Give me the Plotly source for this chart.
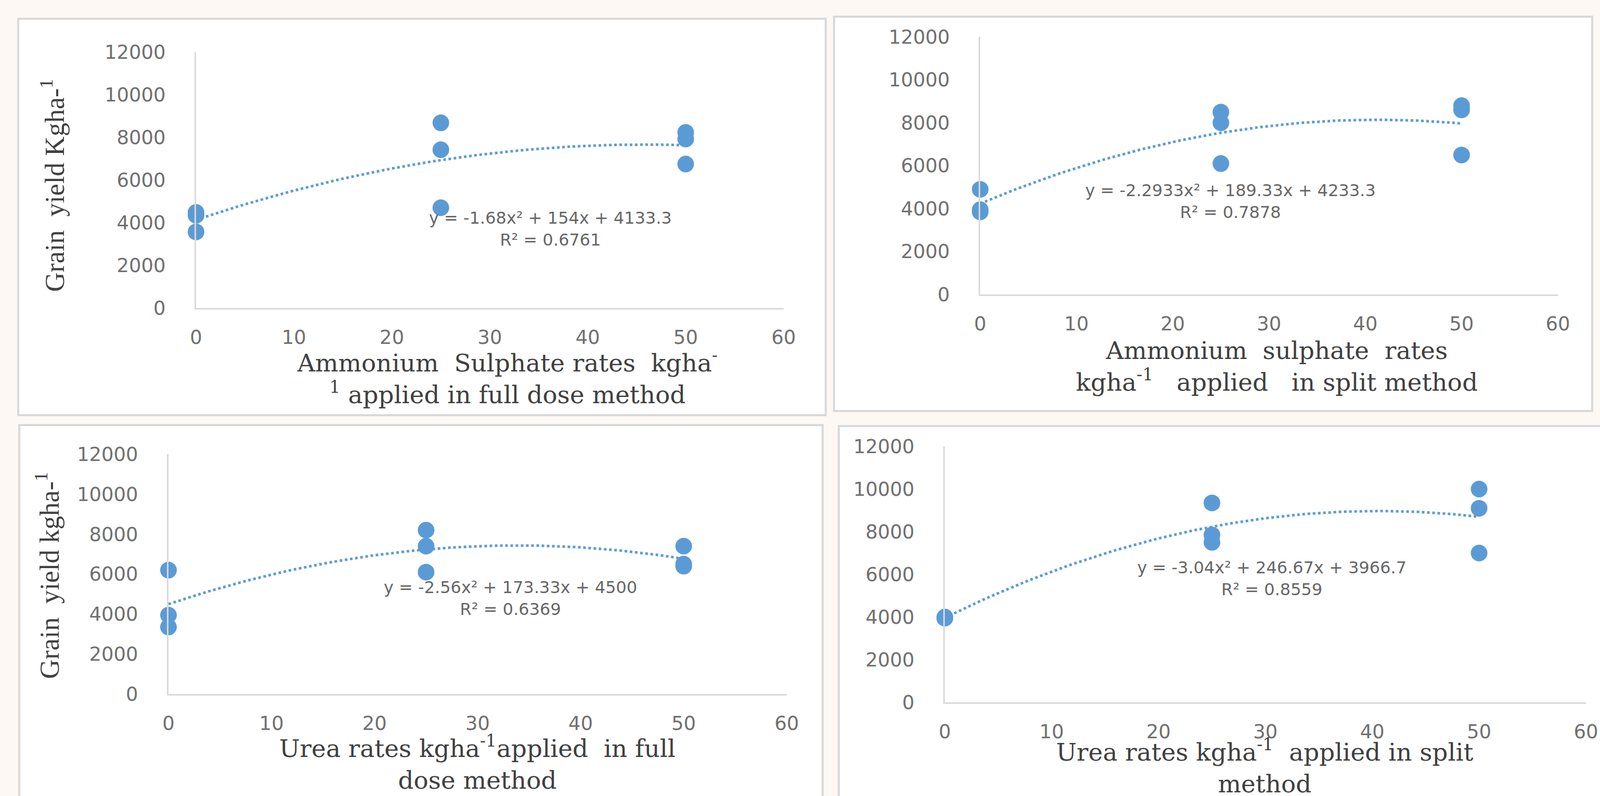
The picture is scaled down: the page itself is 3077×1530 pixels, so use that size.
import numpy as np
import plotly.graph_objects as go

# ---------------- data ----------------
rates = [0, 0, 0, 25, 25, 25, 50, 50, 50]
as_full = [4480, 4350, 3570, 8680, 7420, 4700, 8230, 7920, 6750]
as_split = [4900, 3950, 3850, 8500, 8000, 6100, 8800, 8600, 6500]
urea_full = [6200, 3950, 3350, 8200, 7400, 6100, 7400, 6500, 6400]
urea_split = [4000, 3950, 3950, 9350, 7850, 7500, 10000, 9100, 7000]

eq_labels = [
    "y = -1.68x² + 154x + 4133.3",
    "y = -2.2933x² + 189.33x + 4233.3",
    "y = -2.56x² + 173.33x + 4500",
    "y = -3.04x² + 246.67x + 3966.7",
]
r2_labels = ["R² = 0.6761", "R² = 0.7878", "R² = 0.6369", "R² = 0.8559"]

x_ticks = [0, 10, 20, 30, 40, 50, 60]
y_ticks = [0, 2000, 4000, 6000, 8000, 10000, 12000]
x_tick_text = [str(v) for v in x_ticks]
y_tick_text = [str(v) for v in y_ticks]

NB = "\u00a0"
x_titles = [
    "Ammonium" + NB + " Sulphate rates" + NB + " kgha<sup>-</sup><br>"
    "<sup>1</sup> applied in full dose method",
    "Ammonium" + NB + " sulphate" + NB + " rates<br>"
    "kgha<sup>-1</sup>" + NB + NB + " applied" + NB + NB + " in split method",
    "Urea rates kgha<sup>-1</sup>applied" + NB + " in full<br>dose method",
    "Urea rates kgha<sup>-1</sup>" + NB + " applied in split<br>method",
]
y_titles = ["Grain" + NB + " yield Kgha-<sup>1</sup>", None,
            "Grain" + NB + " yield kgha-<sup>1</sup>", None]

series = [as_full, as_split, urea_full, urea_split]

# ---------------- layout (pixels) ----------------
W, H = 3077, 1530
panels = [
    dict(x0=377, x60=1507, y0=592, y12=100, box=(35, 36, 1588, 798),
         eq=(1058, 440), yt=(101, 356), xt=(975, 724)),
    dict(x0=1885, x60=2996, y0=566, y12=71, box=(1604, 32, 3062, 790),
         eq=(2366, 387), yt=None, xt=(2455, 704)),
    dict(x0=324, x60=1513, y0=1334, y12=873, box=(37, 817, 1582, 1560),
         eq=(981, 1150), yt=(91, 1106), xt=(918, 1465)),
    dict(x0=1817, x60=3050, y0=1350, y12=858, box=(1613, 819, 3100, 1560),
         eq=(2446, 1112), yt=None, xt=(2432, 1472)),
]

def px(x):
    return x / W

def py(y):
    return 1 - y / H

BLUE = "#5b9bd5"
TICK_FONT = dict(family="DejaVu Sans", size=37, color="#707070")
EQ_FONT = dict(family="DejaVu Sans", size=32, color="#666666")
TITLE_FONT = dict(family="DejaVu Serif", size=47, color="#404040")
YT_FONT = dict(family="Liberation Serif", size=52, color="#404040")

fig = go.Figure()
layout = dict(
    width=W, height=H, autosize=False,
    margin=dict(l=0, r=0, t=0, b=0, pad=0, autoexpand=False),
    paper_bgcolor="#fdf8f4", plot_bgcolor="rgba(0,0,0,0)",
    showlegend=False, shapes=[], annotations=[],
)

for i, (p, yvals) in enumerate(zip(panels, series)):
    n = i + 1
    xa = "x" if n == 1 else f"x{n}"
    ya = "y" if n == 1 else f"y{n}"
    xkey = "xaxis" if n == 1 else f"xaxis{n}"
    ykey = "yaxis" if n == 1 else f"yaxis{n}"

    # panel frame
    bx0, by0, bx1, by1 = p["box"]
    layout["shapes"].append(dict(
        type="rect", xref="paper", yref="paper",
        x0=px(bx0), x1=px(bx1), y0=py(by1), y1=py(by0),
        line=dict(color="#d9d9d9", width=4), fillcolor="white", layer="below"))

    layout[xkey] = dict(
        domain=[px(p["x0"]), px(p["x60"])], anchor=ya, range=[0, 60],
        tickvals=x_ticks, ticktext=x_tick_text, showgrid=False, zeroline=False,
        showline=True, linecolor="#d9d9d9", linewidth=3, automargin=False,
        ticks="", ticklabelstandoff=22, tickfont=TICK_FONT, fixedrange=True)
    layout[ykey] = dict(
        domain=[py(p["y0"]), py(p["y12"])], anchor=xa, range=[0, 12000],
        tickvals=y_ticks, ticktext=y_tick_text, showgrid=False, zeroline=False,
        showline=True, linecolor="#d9d9d9", linewidth=3, automargin=False,
        ticks="", ticklabelstandoff=48, tickfont=TICK_FONT, fixedrange=True)

    fig.add_trace(go.Scatter(
        x=rates, y=yvals, mode="markers", xaxis=xa, yaxis=ya,
        marker=dict(size=32, color=BLUE, line=dict(width=0)),
        cliponaxis=False))

    coef = np.polyfit(rates, yvals, 2)
    xs = np.linspace(min(rates), max(rates), 101)
    fig.add_trace(go.Scatter(
        x=xs, y=np.polyval(coef, xs), mode="lines", xaxis=xa, yaxis=ya,
        line=dict(color=BLUE, width=5, dash="dot"), cliponaxis=False,
        hoverinfo="skip"))

    ex, ey = p["eq"]
    layout["annotations"].append(dict(
        text=eq_labels[i] + "<br>" + r2_labels[i], x=px(ex), y=py(ey),
        xref="paper", yref="paper", showarrow=False, font=EQ_FONT,
        align="center", xanchor="center", yanchor="middle"))

    tx, ty = p["xt"]
    layout["annotations"].append(dict(
        text=x_titles[i], x=px(tx), y=py(ty), xref="paper", yref="paper",
        showarrow=False, font=TITLE_FONT, align="center",
        xanchor="center", yanchor="middle"))

    if y_titles[i] is not None:
        tx, ty = p["yt"]
        layout["annotations"].append(dict(
            text=y_titles[i], x=px(tx), y=py(ty), xref="paper", yref="paper",
            showarrow=False, font=YT_FONT, textangle=-90,
            xanchor="center", yanchor="middle"))

fig.update_layout(**layout)
fig.write_html(
    "out.html",
    config={"displayModeBar": False},
    post_script="document.body.style.margin='0px';"
                "document.body.style.overflow='hidden';",
)
